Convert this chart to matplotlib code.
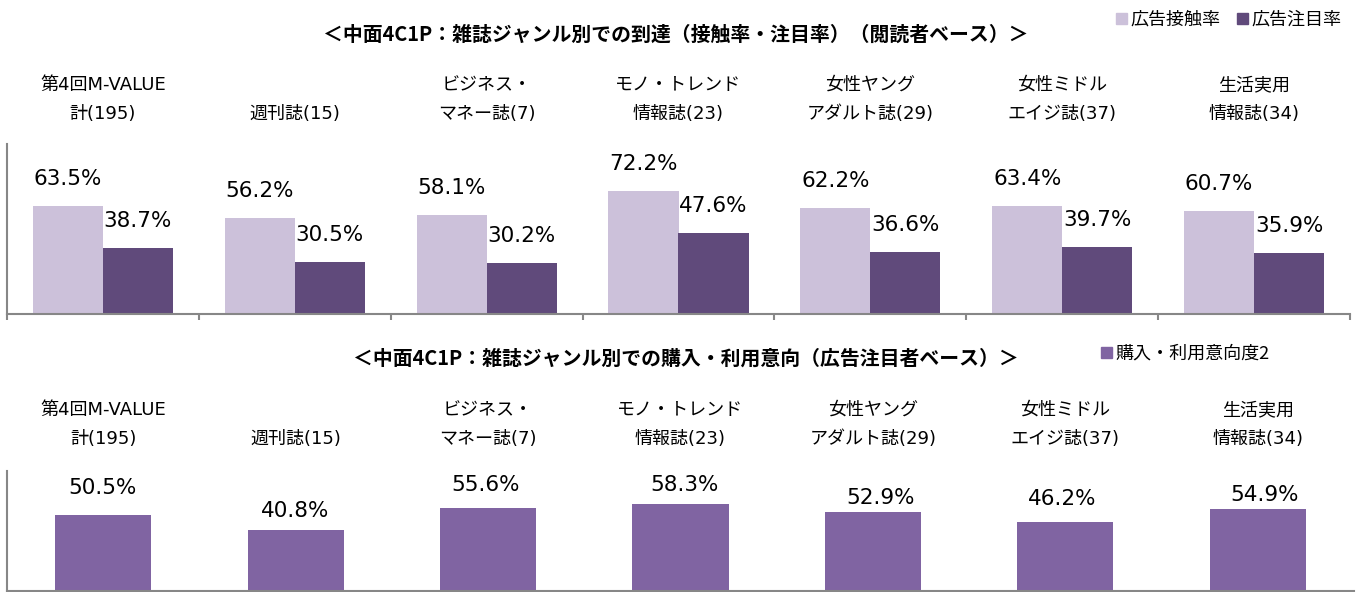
import matplotlib
matplotlib.use("Agg")
import matplotlib.pyplot as plt
from matplotlib.patches import Patch
import matplotlib.transforms as mtransforms

plt.rcParams['font.family'] = ['Noto Sans CJK JP', 'DejaVu Sans']

# data
cat_line1 = ["第4回M-VALUE", "", "ビジネス・", "モノ・トレンド", "女性ヤング", "女性ミドル", "生活実用"]
cat_line2 = ["計(195)", "週刊誌(15)", "マネー誌(7)", "情報誌(23)", "アダルト誌(29)", "エイジ誌(37)", "情報誌(34)"]
contact_rate = [63.5, 56.2, 58.1, 72.2, 62.2, 63.4, 60.7]
attention_rate = [38.7, 30.5, 30.2, 47.6, 36.6, 39.7, 35.9]
purchase_intent = [50.5, 40.8, 55.6, 58.3, 52.9, 46.2, 54.9]

title_top = "＜中面4C1P：雑誌ジャンル別での到達（接触率・注目率）（閲読者ベース）＞"
title_bottom = "＜中面4C1P：雑誌ジャンル別での購入・利用意向（広告注目者ベース）＞"

# label nudges in pixels (dx, dy above bar top) for the lower chart
bottom_nudge = [(-1, 27), (-1, 19), (-3, 23), (4, 19), (8, 14), (-3, 23), (7, 14)]

W, H = 1369, 592
c_light = "#CCC1DA"
c_dark = "#604A7B"
c_purple = "#8064A2"
grey = "#878787"
num_font = dict(family="DejaVu Sans", fontsize=15.5)
cat_font = dict(family=["DejaVu Sans", "Noto Sans CJK JP"], fontsize=13)

fig = plt.figure(figsize=(W / 100, H / 100), dpi=100)
x = list(range(len(contact_rate)))


def px2pt(v):
    return v * 72 / 100


def style_axes(ax):
    for s in ["top", "right"]:
        ax.spines[s].set_visible(False)
    for s in ["left", "bottom"]:
        ax.spines[s].set_color(grey)
        ax.spines[s].set_linewidth(1.5)
    ax.set_yticks([])
    ax.set_xlim(-0.5, len(x) - 0.5)


# ---- top chart ----
ax1 = fig.add_axes([7 / W, 1 - 314 / H, 1343 / W, 170 / H])
style_axes(ax1)
ax1.set_ylim(0, 100)
bw = 0.365
b1 = ax1.bar([i - bw / 2 for i in x], contact_rate, width=bw, color=c_light)
b2 = ax1.bar([i + bw / 2 for i in x], attention_rate, width=bw, color=c_dark)
ax1.set_xticks([i - 0.5 for i in range(len(x) + 1)])
ax1.set_xticklabels([])
ax1.tick_params(axis="x", direction="out", length=4.5, width=1.5, color=grey)
for bars, vals in [(b1, contact_rate), (b2, attention_rate)]:
    for b, v in zip(bars, vals):
        ax1.annotate(f"{v:.1f}%", (b.get_x() + b.get_width() / 2, v),
                     xytext=(0, px2pt(27)), textcoords="offset points",
                     ha="center", va="center", **num_font)

# ---- bottom chart ----
ax2 = fig.add_axes([7 / W, 1 - 591 / H, 1347 / W, 120 / H])
style_axes(ax2)
ax2.set_ylim(0, 80)
b3 = ax2.bar(x, purchase_intent, width=0.5, color=c_purple)
ax2.set_xticks([])
for b, v, (dx, dy) in zip(b3, purchase_intent, bottom_nudge):
    ax2.annotate(f"{v:.1f}%", (b.get_x() + b.get_width() / 2, v),
                 xytext=(px2pt(dx), px2pt(dy)), textcoords="offset points",
                 ha="center", va="center", **num_font)

# category labels
for ax, y1, y2 in [(ax1, 85, 114), (ax2, 410, 439)]:
    tr = mtransforms.blended_transform_factory(ax.transData, fig.transFigure)
    for i in x:
        ax.text(i, 1 - y1 / H, cat_line1[i], transform=tr, ha="center", va="center", **cat_font)
        ax.text(i, 1 - y2 / H, cat_line2[i], transform=tr, ha="center", va="center", **cat_font)

# titles
fig.text(676 / W, 1 - 34 / H, title_top, ha="center", va="center", fontsize=14.3, fontweight="bold")
fig.text(686 / W, 1 - 358 / H, title_bottom, ha="center", va="center", fontsize=14.3, fontweight="bold")

# legends
fig.legend(handles=[Patch(color=c_light, label="広告接触率"), Patch(color=c_dark, label="広告注目率")],
           loc="center left", bbox_to_anchor=(1116 / W, 1 - 20 / H), ncol=2, frameon=False,
           fontsize=13, handlelength=0.6, handleheight=0.6, handletextpad=0.2,
           columnspacing=0.9, borderpad=0, borderaxespad=0)
fig.legend(handles=[Patch(color=c_purple, label="購入・利用意向度2")],
           loc="center left", bbox_to_anchor=(1101 / W, 1 - 354 / H), frameon=False,
           fontsize=13, handlelength=0.6, handleheight=0.6, handletextpad=0.2,
           borderpad=0, borderaxespad=0)

fig.savefig("out.png", dpi=100)
